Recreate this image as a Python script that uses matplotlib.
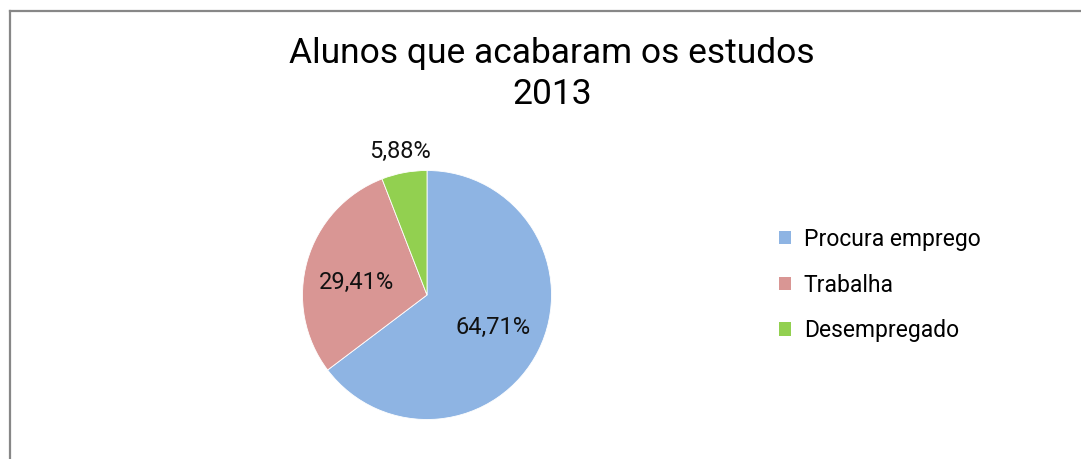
import matplotlib
matplotlib.use("Agg")
import matplotlib.pyplot as plt
from matplotlib.patches import Patch
from matplotlib.lines import Line2D
import numpy as np

categories = ["Procura emprego", "Trabalha", "Desempregado"]
values = [64.71, 29.41, 5.88]
colors = ["#8EB4E3", "#D99694", "#92D050"]
title = "Alunos que acabaram os estudos\n2013"

plt.rcParams['font.family'] = ['Roboto', 'DejaVu Sans']

W, H = 1081, 459
fig = plt.figure(figsize=(W/100, H/100), dpi=100)
fig.patch.set_facecolor("white")

def px(x, y):
    return x / W, 1 - y / H
x0, y0 = px(9.5, 10.5)
fig.add_artist(Line2D([x0, x0], [y0, -0.1], transform=fig.transFigure, color="#878787", lw=1.6))
fig.add_artist(Line2D([x0, 1.1], [y0, y0], transform=fig.transFigure, color="#878787", lw=1.6))

cx, cy, r = 427, 295, 124.5
ax = fig.add_axes([(cx - r)/W, (H - cy - r)/H, 2*r/W, 2*r/H])
wedges, texts, autotexts = ax.pie(values, colors=colors, startangle=90, counterclock=False,
                                  autopct=lambda p: f"{p:.2f}%".replace(".", ","),
                                  pctdistance=0.59, radius=1,
                                  wedgeprops=dict(edgecolor="white", linewidth=0.6),
                                  textprops=dict(fontsize=17, color="#111111"))
ax.set_xlim(-1, 1)
ax.set_ylim(-1, 1)
ax.set_aspect("equal")
ax.axis("off")

w = wedges[2]
ang = np.deg2rad((w.theta1 + w.theta2) / 2)
autotexts[2].set_position((1.18 * np.cos(ang), 1.17 * np.sin(ang)))
x1, y1 = autotexts[1].get_position()
autotexts[1].set_position((x1, y1 - 0.06))
for t in autotexts:
    t.set_clip_on(False)

fig.text(552/W, 1 - 74/H, title, ha="center", va="center", fontsize=25.5,
         color="#000000", linespacing=1.3)

handles = [Patch(facecolor=c, edgecolor="none") for c in colors]
fig.legend(handles, categories, loc="upper left", bbox_to_anchor=(758/W, 1 - 207/H),
           frameon=False, prop=dict(size=16.5), handlelength=0.55, handleheight=0.55,
           handletextpad=0.55, labelspacing=1.0)

fig.savefig("out.png", dpi=100, facecolor="white")
